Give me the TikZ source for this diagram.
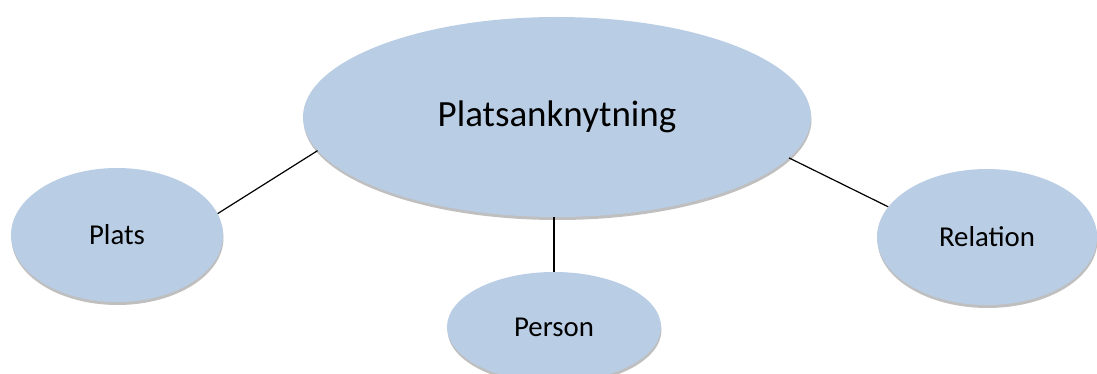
\documentclass[tikz,border=0pt]{standalone}
\usepackage{fontspec}
\setmainfont{Carlito}
\usepackage{xcolor}
\usepackage{tikz}
\usetikzlibrary{positioning, shapes, shadows}
\definecolor{bubble}{HTML}{B9CDE5}

\begin{document}
\begin{tikzpicture}[
x=1pt, y=-1pt,
topic/.style={ellipse, fill=bubble, draw=none, inner sep=0pt, align=center,
  drop shadow={shadow xshift=0.5pt, shadow yshift=-3pt, opacity=0.25, fill=black}},
link/.style={draw=black, line width=1.2pt}
]
\useasboundingbox (0,0) rectangle (1097,374);

% ====== Main Concept ======
\node[topic, minimum width=508pt, minimum height=200pt, font=\fontsize{37}{44}\selectfont] (platsank) at (557,117) {Platsanknytning};

% ====== Parts ======
\node[topic, minimum width=212pt, minimum height=134pt, font=\fontsize{28.8}{34}\selectfont] (plats) at (117,235) {Plats};
\node[topic, minimum width=214pt, minimum height=110pt, font=\fontsize{28.8}{34}\selectfont] (person) at (554,327) {Person};
\node[topic, minimum width=220pt, minimum height=136pt, font=\fontsize{28.8}{34}\selectfont] (relation) at (987,237) {Relation};

% ====== Connections ======
\draw[link] (plats.12) -- (platsank.188);
\draw[link] (person.north |- platsank.south) -- (person.north);
\draw[link] (platsank.-10) -- (relation.163);

\end{tikzpicture}
\end{document}
